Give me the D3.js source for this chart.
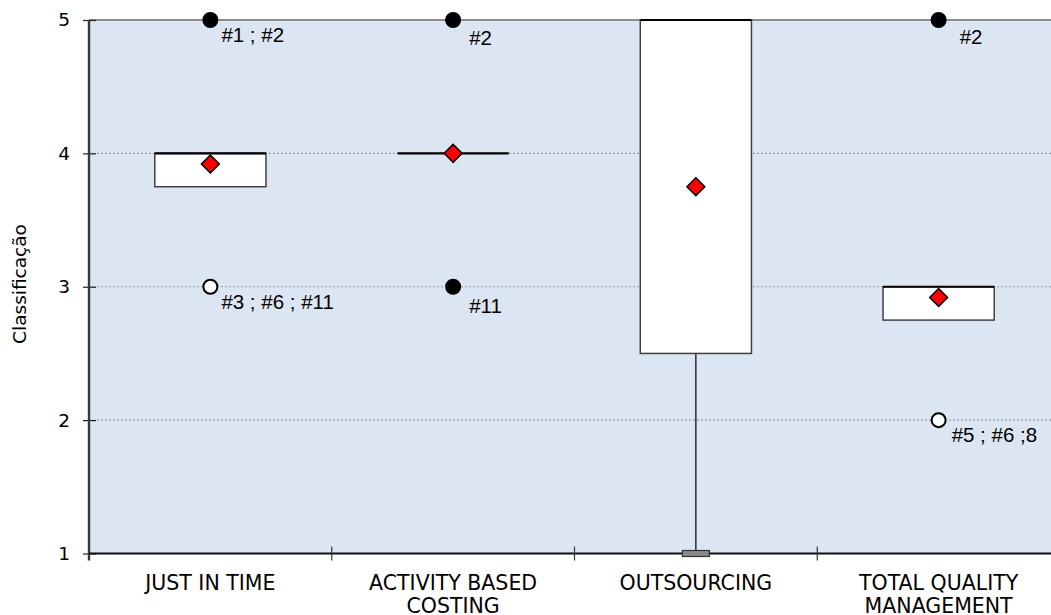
<!DOCTYPE html>
<html>
<head>
<meta charset="utf-8">
<script src="https://cdn.jsdelivr.net/npm/d3@7"></script>
<style>
  html, body { margin: 0; padding: 0; background: #ffffff; }
  svg { display: block; }
</style>
</head>
<body>
<svg id="chart" width="1051" height="615"></svg>
<script>
// Box plot of ratings (1–5) for four management practices
const categories = ["JUST IN TIME", "ACTIVITY BASED COSTING", "OUTSOURCING", "TOTAL QUALITY MANAGEMENT"];
const categoryLines = [["JUST IN TIME"], ["ACTIVITY BASED", "COSTING"], ["OUTSOURCING"], ["TOTAL QUALITY", "MANAGEMENT"]];
const q1Values = [3.75, 4, 2.5, 2.75];
const medianValues = [4, 4, 5, 3];
const q3Values = [4, 4, 5, 3];
const whiskerLow = [3.75, 4, 1, 2.75];
const whiskerHigh = [4, 4, 5, 3];
const meanValues = [3.92, 4, 3.75, 2.92];

// Outliers: category index, value, kind (extreme = filled, mild = hollow), respondent ids
const outlierCategory = [0, 0, 1, 1, 3, 3];
const outlierValue = [5, 3, 5, 3, 5, 2];
const outlierKind = ["extreme", "mild", "extreme", "extreme", "extreme", "mild"];
const outlierLabel = ["#1 ; #2", "#3 ; #6 ; #11", "#2", "#11", "#2", "#5 ; #6 ;8"];
// label placement relative to its point
const labelDx = [11, 11, 16, 16, 21, 13];
const labelDy = [22, 22, 25, 26, 24, 22];

const yTicks = [1, 2, 3, 4, 5];
const yTitle = "Classificação";

const svg = d3.select("#chart");
const plot = { left: 89, top: 20, width: 971, height: 533.5 };

const x = d3.scaleBand().domain(categories).range([plot.left, plot.left + plot.width]).paddingInner(0).paddingOuter(0);
const y = d3.scaleLinear().domain([1, 5]).range([plot.top + plot.height, plot.top]);
const boxW = x.bandwidth() * 0.458;
const cx = i => x(categories[i]) + x.bandwidth() / 2;

// plot background
svg.append("rect")
  .attr("x", plot.left).attr("y", plot.top)
  .attr("width", plot.width).attr("height", plot.height)
  .attr("fill", "#dce6f2");

// dotted gridlines
svg.append("g").selectAll("line")
  .data(yTicks.filter(d => d > 1 && d < 5))
  .join("line")
  .attr("x1", plot.left).attr("x2", plot.left + plot.width)
  .attr("y1", d => y(d)).attr("y2", d => y(d))
  .attr("stroke", "#9a9a9a").attr("stroke-width", 1.2)
  .attr("stroke-dasharray", "2,2");

// top border
svg.append("line")
  .attr("x1", plot.left).attr("x2", plot.left + plot.width)
  .attr("y1", y(5)).attr("y2", y(5))
  .attr("stroke", "#8c8c8c").attr("stroke-width", 2);

// y axis
const yAxis = d3.axisLeft(y).tickValues(yTicks).tickFormat(d3.format("d")).tickSize(6).tickPadding(12);
const gy = svg.append("g").attr("transform", `translate(${plot.left},0)`).call(yAxis);
gy.select(".domain").remove();
gy.selectAll(".tick line").attr("x2", 7).attr("x1", -6).attr("stroke", "#222").attr("stroke-width", 1.2);
gy.selectAll(".tick text")
  .attr("x", -19)
  .attr("font-family", "Tahoma, 'DejaVu Sans', sans-serif")
  .attr("font-size", 18.5).attr("fill", "#000");
svg.append("line")
  .attr("x1", plot.left).attr("x2", plot.left)
  .attr("y1", plot.top).attr("y2", plot.top + plot.height + 7)
  .attr("stroke", "#3a3a3a").attr("stroke-width", 2.4);

svg.append("text")
  .attr("transform", `translate(26,284) rotate(-90)`)
  .attr("text-anchor", "middle")
  .attr("font-family", "Tahoma, 'DejaVu Sans', sans-serif")
  .attr("font-size", 18.5).attr("fill", "#000")
  .text(yTitle);

// boxes
const boxes = svg.append("g");
categories.forEach((c, i) => {
  const xc = cx(i);
  // whiskers
  if (whiskerLow[i] < q1Values[i]) {
    boxes.append("line")
      .attr("x1", xc).attr("x2", xc)
      .attr("y1", y(q1Values[i])).attr("y2", y(whiskerLow[i]))
      .attr("stroke", "#000").attr("stroke-width", 1.2);
  }
  if (whiskerHigh[i] > q3Values[i]) {
    boxes.append("line")
      .attr("x1", xc).attr("x2", xc)
      .attr("y1", y(q3Values[i])).attr("y2", y(whiskerHigh[i]))
      .attr("stroke", "#000").attr("stroke-width", 1.2);
  }
  if (q3Values[i] > q1Values[i]) {
    boxes.append("rect")
      .attr("x", xc - boxW / 2).attr("y", y(q3Values[i]))
      .attr("width", boxW).attr("height", y(q1Values[i]) - y(q3Values[i]))
      .attr("fill", "#ffffff").attr("stroke", "#404040").attr("stroke-width", 1.5);
  }
  boxes.append("line")
    .attr("x1", xc - boxW / 2).attr("x2", xc + boxW / 2)
    .attr("y1", y(medianValues[i])).attr("y2", y(medianValues[i]))
    .attr("stroke", "#000").attr("stroke-width", 2.2);
});

// x axis
svg.append("line")
  .attr("x1", plot.left).attr("x2", plot.left + plot.width)
  .attr("y1", y(1)).attr("y2", y(1))
  .attr("stroke", "#111").attr("stroke-width", 2);
svg.append("g").selectAll("line")
  .data(categories.slice(1))
  .join("line")
  .attr("x1", d => x(d)).attr("x2", d => x(d))
  .attr("y1", y(1) - 7).attr("y2", y(1) + 7)
  .attr("stroke", "#333").attr("stroke-width", 1.2);

// lower whisker caps, drawn over the axis line
categories.forEach((c, i) => {
  if (whiskerLow[i] < q1Values[i]) {
    svg.append("rect")
      .attr("x", cx(i) - 13.5).attr("y", y(whiskerLow[i]) - 3)
      .attr("width", 27).attr("height", 6)
      .attr("fill", "#8a8a8a").attr("stroke", "#333").attr("stroke-width", 1.2);
  }
});

const xl = svg.append("g");
categoryLines.forEach((lines, i) => {
  const t = xl.append("text")
    .attr("text-anchor", "middle")
    .attr("font-family", "Tahoma, 'DejaVu Sans', sans-serif")
    .attr("font-size", 20.5).attr("fill", "#000");
  lines.forEach((ln, k) => {
    t.append("tspan").attr("x", cx(i)).attr("y", 590 + k * 23).text(ln);
  });
});

// means
svg.append("g").selectAll("path")
  .data(meanValues)
  .join("path")
  .attr("d", d3.symbol(d3.symbolSquare, 160))
  .attr("transform", (d, i) => `translate(${cx(i)},${y(d)}) rotate(45)`)
  .attr("fill", "#ff0000").attr("stroke", "#000").attr("stroke-width", 1.5);

// outliers
const og = svg.append("g");
outlierValue.forEach((v, k) => {
  const xc = cx(outlierCategory[k]);
  og.append("circle")
    .attr("cx", xc).attr("cy", y(v)).attr("r", 7)
    .attr("fill", outlierKind[k] === "extreme" ? "#000" : "#fff")
    .attr("stroke", "#000").attr("stroke-width", 2);
  og.append("text")
    .attr("x", xc + labelDx[k]).attr("y", y(v) + labelDy[k])
    .attr("font-family", "Arial, 'Liberation Sans', sans-serif")
    .attr("font-size", 20.5).attr("fill", "#000")
    .text(outlierLabel[k]);
});
</script>
</body>
</html>
